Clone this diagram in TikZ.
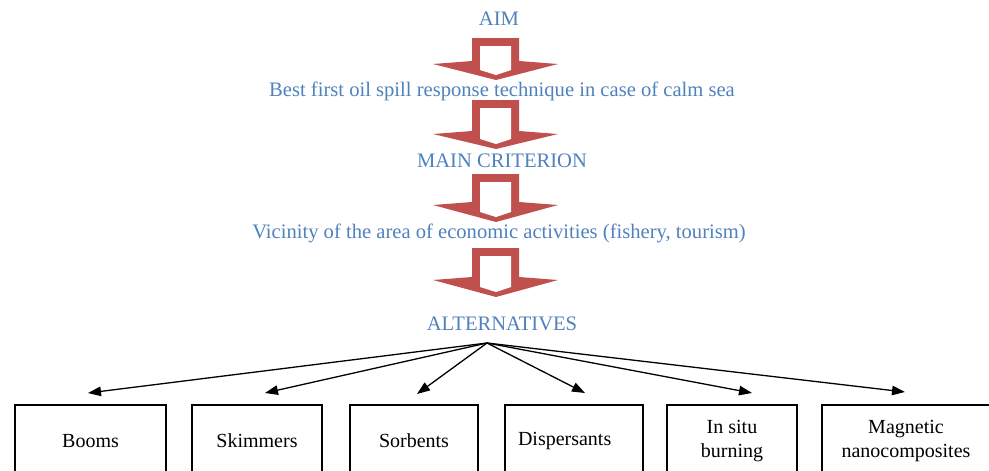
\documentclass[tikz,border=0pt]{standalone}
\usepackage{fontspec}
\setmainfont{Liberation Serif}
\usetikzlibrary{arrows.meta,calc}
\definecolor{txtblue}{RGB}{79,129,189}
\definecolor{arrred}{RGB}{192,80,77}
\newcommand{\blockarrow}[3]{%
  \fill[arrred] (472,#1) -- (519,#1) -- (519,#2-3) -- (558,#2) -- (496,#3) -- (433,#2) -- (472,#2-3) -- cycle;
  \fill[white] (480,#1+8) -- (511,#1+8) -- (511,#3-10) -- (496,#3-5) -- (480,#3-10) -- cycle;}
\tikzset{
  lbl/.style={text=txtblue, font=\rmfamily\fontsize{20.6}{24}\selectfont, inner sep=0pt, anchor=base},
  altbox/.style={draw, line width=1.4pt, minimum height=72pt, inner sep=0pt, align=center,
     font=\rmfamily\fontsize{20}{23.5}\selectfont},
  conn/.style={line width=1.3pt, -{Triangle[length=13pt,width=9.5pt]}}
}
\begin{document}
\begin{tikzpicture}[x=1pt,y=-1pt]
\useasboundingbox (0,0) rectangle (989,471);
\clip (0,0) rectangle (989,471);
\blockarrow{38}{64}{80}
\blockarrow{100}{134}{149}
\blockarrow{174}{205}{222}
\blockarrow{248}{280}{297}
\node[lbl] (aim) at (499,25) {AIM};
\node[lbl] (best) at (502,96) {Best first oil spill response technique in case of calm sea};
\node[lbl] (main) at (502,167) {MAIN CRITERION};
\node[lbl] (vic) at (499,238) {Vicinity of the area of economic activities (fishery, tourism)};
\node[lbl] (alt) at (502,330) {ALTERNATIVES};
\coordinate (src) at (487,343);
\node[altbox, minimum width=151pt] (b1) at (90.5,441) {Booms};
\node[altbox, minimum width=130pt] (b2) at (257,441) {Skimmers};
\node[altbox, minimum width=128pt] (b3) at (414,441) {Sorbents};
\node[altbox, minimum width=138pt, text width=112pt, align=left] (b4) at (574,441) {Dispersants};
\node[altbox, minimum width=130pt] (b5) at (732,441) {In situ\\burning};
\node[altbox, minimum width=168pt] (b6) at (906,441) {Magnetic\\nanocomposites};
\coordinate (t1) at (88,393);
\coordinate (t2) at (265,393);
\coordinate (t3) at (417,394);
\coordinate (t4) at (585,393);
\coordinate (t5) at (752,393);
\coordinate (t6) at (905,392);
\foreach \i in {1,...,6} \draw[conn] (src) -- (t\i);
\end{tikzpicture}
\end{document}
